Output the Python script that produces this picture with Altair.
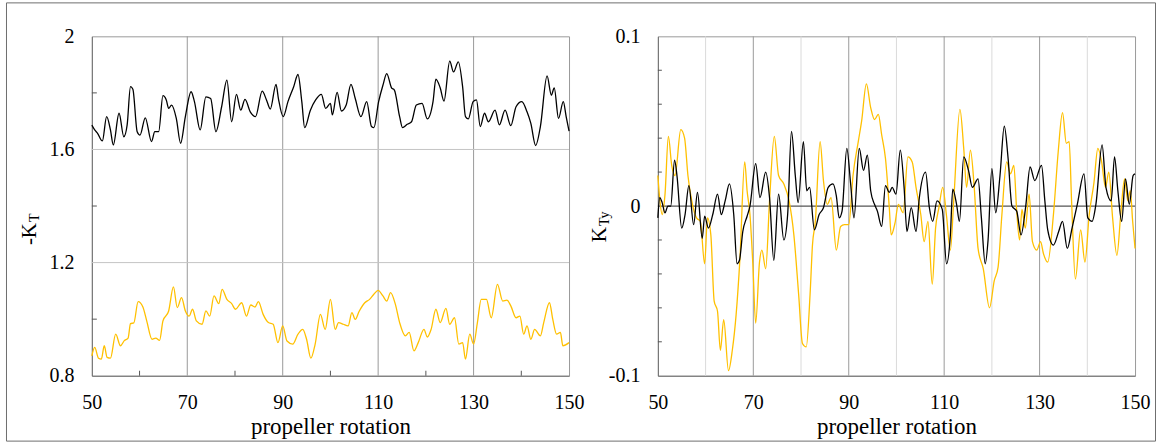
import altair as alt
import pandas as pd

# ---------------- data (rotation, value) ----------------
kt_black = [(50.0,1.686),(50.6,1.669),(51.2,1.657),(52.2,1.630),(53.1,1.716),(53.9,1.669),(54.5,1.616),(55.7,1.728),(56.7,1.645),(57.4,1.687),(58.1,1.822),(58.6,1.813),(59.5,1.663),(60.1,1.651),(61.2,1.712),(62.5,1.628),(63.2,1.663),(64.0,1.663),(64.9,1.790),(65.6,1.775),(66.1,1.745),(66.7,1.757),(67.7,1.710),(68.6,1.622),(69.6,1.716),(70.8,1.804),(71.5,1.769),(72.7,1.669),(73.9,1.786),(74.9,1.780),(76.0,1.663),(77.2,1.751),(78.3,1.845),(79.3,1.698),(80.3,1.795),(81.2,1.739),(82.1,1.777),(83.2,1.733),(84.3,1.716),(85.7,1.806),(86.6,1.775),(87.4,1.743),(88.6,1.830),(89.1,1.780),(90.1,1.716),(91.1,1.769),(92.3,1.822),(93.2,1.865),(94.0,1.769),(94.6,1.677),(95.8,1.739),(96.9,1.775),(98.1,1.795),(99.0,1.745),(100.0,1.763),(100.4,1.722),(101.4,1.802),(102.3,1.736),(103.3,1.757),(104.3,1.830),(105.2,1.780),(106.4,1.716),(107.6,1.769),(108.6,1.681),(109.1,1.677),(110.1,1.769),(111.0,1.827),(111.8,1.868),(112.8,1.818),(113.4,1.810),(114.5,1.716),(115.1,1.677),(116.1,1.689),(117.0,1.698),(118.0,1.757),(119.2,1.763),(120.3,1.708),(121.5,1.769),(122.1,1.849),(123.0,1.818),(123.8,1.771),(125.0,1.912),(125.8,1.874),(126.8,1.910),(127.7,1.822),(128.3,1.716),(128.9,1.708),(129.9,1.769),(130.6,1.775),(131.4,1.681),(132.3,1.728),(133.1,1.698),(134.5,1.739),(135.4,1.687),(136.6,1.739),(137.8,1.684),(138.9,1.751),(140.1,1.769),(141.2,1.733),(142.0,1.692),(143.0,1.614),(144.0,1.681),(145.4,1.860),(146.3,1.792),(146.9,1.818),(147.8,1.710),(148.8,1.769),(149.4,1.716),(150.0,1.665)]

kt_orange = [(50.0,0.870),(50.6,0.900),(51.4,0.862),(52.0,0.859),(52.6,0.906),(53.2,0.865),(53.9,0.862),(55.0,0.947),(56.0,0.906),(56.8,0.924),(57.6,0.933),(58.1,0.984),(58.8,0.987),(59.7,1.062),(60.7,1.043),(61.5,0.994),(62.6,0.929),(63.4,0.933),(64.2,0.925),(64.9,0.994),(66.1,1.029),(67.1,1.114),(67.9,1.041),(68.8,1.076),(69.6,1.029),(70.4,1.011),(71.1,1.035),(71.9,0.994),(73.1,0.982),(73.9,1.029),(74.7,1.011),(75.6,1.082),(76.6,1.055),(77.3,1.105),(78.3,1.070),(79.3,1.055),(80.1,1.035),(81.4,1.058),(82.4,1.011),(83.3,1.050),(84.2,1.043),(84.9,1.062),(85.9,1.017),(87.0,0.988),(88.0,0.982),(89.0,0.917),(90.0,0.976),(90.9,0.923),(92.1,0.912),(93.2,0.947),(94.2,0.964),(95.0,0.929),(95.9,0.862),(96.8,0.912),(97.9,1.017),(98.9,0.964),(100.0,1.070),(101.0,0.964),(101.7,0.988),(102.7,0.982),(103.7,0.976),(104.5,1.023),(105.2,0.999),(106.0,1.027),(107.2,1.058),(108.2,1.070),(109.1,1.088),(110.0,1.102),(111.0,1.082),(111.8,1.064),(112.6,1.094),(113.6,1.053),(114.5,0.988),(115.7,0.941),(116.5,0.953),(117.5,0.888),(118.4,0.917),(119.6,0.964),(120.3,0.937),(121.1,0.964),(122.1,1.035),(123.0,0.988),(124.2,1.038),(125.0,0.982),(126.0,1.005),(126.9,0.912),(127.7,0.917),(128.3,0.859),(129.2,0.947),(130.0,0.912),(130.8,0.988),(131.6,1.070),(132.7,1.070),(133.7,1.005),(135.0,1.123),(136.1,1.064),(137.0,1.067),(137.8,1.047),(138.9,1.005),(139.7,1.011),(140.5,0.947),(141.2,0.976),(142.0,0.929),(142.8,0.964),(144.0,0.941),(144.7,0.988),(145.9,1.058),(146.6,0.999),(147.4,0.947),(148.2,0.953),(148.7,0.906),(150.0,0.917)]

kty_black = [(50.0,-0.007),(50.4,0.005),(50.9,0.002),(51.5,-0.004),(52.1,0.000),(52.7,0.000),(53.5,0.027),(54.0,0.018),(55.0,-0.013),(55.7,-0.005),(56.5,0.012),(57.5,-0.011),(58.3,0.008),(59.3,-0.019),(59.8,-0.006),(60.6,-0.013),(61.5,-0.005),(62.5,0.007),(63.3,-0.005),(64.1,0.003),(65.0,0.013),(65.9,-0.005),(66.6,-0.034),(67.1,-0.032),(67.8,-0.015),(68.7,-0.006),(69.3,0.000),(70.5,0.025),(71.4,0.005),(72.6,0.020),(73.4,0.005),(74.3,-0.032),(75.3,0.007),(76.4,-0.020),(77.2,-0.005),(78.0,0.044),(78.8,0.018),(79.4,0.002),(80.5,0.038),(81.2,0.009),(81.8,0.011),(82.8,-0.014),(83.8,-0.005),(84.7,-0.001),(85.7,0.011),(86.7,0.013),(87.4,0.006),(88.0,-0.007),(88.6,-0.003),(89.6,0.034),(90.4,0.013),(91.1,-0.007),(92.2,0.034),(93.1,0.021),(93.9,0.030),(94.6,0.009),(95.4,0.001),(96.0,-0.003),(96.9,-0.012),(97.7,0.012),(98.5,0.008),(99.1,0.011),(99.9,0.007),(100.8,0.033),(101.6,0.011),(102.2,-0.015),(103.1,-0.001),(104.1,-0.015),(104.8,0.005),(106.1,0.020),(106.9,-0.001),(107.6,-0.009),(108.5,0.003),(109.6,-0.002),(110.5,-0.034),(111.3,-0.017),(111.8,0.010),(112.6,0.001),(113.2,-0.009),(114.1,0.029),(115.1,0.021),(115.9,0.011),(117.1,0.016),(117.8,-0.007),(118.6,-0.034),(119.2,-0.020),(120.0,0.022),(120.8,-0.004),(121.7,0.018),(122.6,0.047),(123.4,0.028),(124.2,0.000),(125.2,-0.003),(126.1,-0.017),(127.1,0.000),(128.0,0.023),(129.0,0.015),(130.4,0.024),(131.1,0.003),(131.7,-0.014),(132.9,-0.023),(134.0,-0.015),(134.8,-0.009),(135.8,-0.025),(136.8,-0.013),(137.9,0.001),(139.3,0.019),(140.1,-0.007),(141.0,-0.009),(141.8,0.001),(143.1,0.036),(143.9,0.011),(145.0,0.003),(145.7,0.029),(146.4,0.009),(147.2,-0.009),(148.0,0.016),(148.8,0.001),(149.6,0.018),(150.0,0.019)]

kty_orange = [(50.0,0.018),(50.4,0.004),(50.9,-0.005),(51.5,0.007),(52.2,0.041),(52.9,0.024),(53.6,0.018),(54.8,0.045),(55.6,0.040),(56.3,0.018),(57.1,0.003),(58.1,-0.007),(58.9,-0.009),(59.8,-0.034),(60.4,-0.007),(61.1,-0.017),(61.8,-0.056),(62.5,-0.062),(63.1,-0.085),(63.8,-0.067),(64.8,-0.097),(65.6,-0.085),(66.4,-0.064),(67.2,-0.031),(68.2,0.026),(68.7,0.009),(69.3,-0.005),(69.9,-0.034),(70.5,-0.069),(71.3,-0.033),(71.8,-0.026),(72.6,-0.037),(73.4,0.003),(74.4,0.041),(75.3,0.018),(76.4,0.013),(77.5,0.003),(78.5,-0.017),(79.5,-0.052),(80.3,-0.081),(81.1,-0.083),(81.9,-0.052),(82.4,-0.023),(83.0,-0.009),(84.0,0.038),(84.7,0.015),(85.5,0.001),(86.3,0.005),(87.4,-0.026),(88.3,-0.012),(89.1,-0.011),(90.0,-0.011),(90.9,0.018),(92.0,0.038),(92.7,0.050),(93.7,0.072),(94.6,0.058),(95.4,0.051),(96.2,0.054),(96.9,0.042),(97.7,0.028),(98.5,-0.001),(98.9,-0.017),(99.7,-0.010),(100.4,0.001),(101.4,-0.004),(102.4,0.029),(103.3,0.026),(104.1,0.011),(105.1,-0.005),(105.8,-0.021),(106.6,-0.009),(107.5,-0.046),(108.2,-0.013),(108.9,-0.001),(109.7,0.011),(110.5,-0.006),(111.3,-0.026),(112.0,0.003),(113.3,0.057),(114.1,0.034),(114.7,0.011),(115.5,0.033),(116.3,0.011),(117.1,-0.025),(118.2,-0.037),(119.5,-0.060),(120.5,-0.044),(121.3,-0.036),(122.1,-0.005),(123.1,0.026),(123.9,0.019),(124.6,0.024),(125.2,-0.003),(125.8,-0.020),(126.3,-0.002),(127.0,-0.013),(127.8,0.007),(128.5,-0.021),(129.4,-0.026),(130.2,-0.021),(130.8,-0.028),(131.7,-0.033),(132.9,-0.005),(133.9,0.032),(134.8,0.055),(135.6,0.037),(136.2,0.038),(136.7,0.003),(137.5,-0.043),(138.6,-0.014),(139.5,-0.033),(140.4,-0.005),(141.4,0.014),(142.2,0.034),(143.0,0.026),(143.8,0.011),(144.5,0.020),(145.3,-0.007),(146.2,-0.029),(147.0,-0.005),(147.8,0.016),(148.5,0.003),(149.0,0.009),(149.5,-0.009),(150.0,-0.025)]

x_ticks = [50, 70, 90, 110, 130, 150]
left_y_ticks = [0.8, 1.2, 1.6, 2.0]
right_y_ticks = [-0.1, 0.0, 0.1]
left_vgrid = [70, 90, 110, 130]
left_hgrid = [1.2, 1.6]
left_x_minor = [60, 80, 100, 120, 140]
left_y_minor = [1.0, 1.4, 1.8]
right_vgrid_major = [70, 90, 110, 130]
right_vgrid_minor = [60, 80, 100, 120, 140]
right_zero = [0.0]
right_y_minor = [-0.08, -0.06, -0.04, -0.02, 0.02, 0.04, 0.06, 0.08]

W, H = 478, 340
FONT = "Liberation Serif"
BLACK = "#000000"
GOLD = "#FFC000"


def df(pairs):
    return pd.DataFrame(pairs, columns=["rot", "val"])


xs = alt.Scale(domain=[50, 150], nice=False, zero=False)
label_expr = "replace(format(datum.value, '.1~f'), '\u2212', '-')"


def make_panel(ydom, yticks, series, vmajor, vminor, hlines, hline_color, hline_width,
               xminor, yminor, ytick_len, title_main, title_sub, tpos, frame=False):
    ys = alt.Scale(domain=ydom, nice=False, zero=False)
    X = alt.X("rot:Q", scale=xs,
              axis=alt.Axis(values=x_ticks, format="d", title="propeller rotation",
                            grid=False, labelFlush=False))
    Y = alt.Y("val:Q", scale=ys,
              axis=alt.Axis(values=yticks, labelExpr=label_expr, title=None, grid=False))
    layers = []
    if vminor:
        layers.append(alt.Chart(pd.DataFrame({"g": vminor})).mark_rule(color="#dadada", strokeWidth=1)
                      .encode(x=alt.X("g:Q", scale=xs), y=alt.value(0), y2=alt.value(H)))
    layers.append(alt.Chart(pd.DataFrame({"g": vmajor})).mark_rule(color="#9a9a9a", strokeWidth=1)
                  .encode(x=alt.X("g:Q", scale=xs), y=alt.value(0), y2=alt.value(H)))
    layers.append(alt.Chart(pd.DataFrame({"h": hlines})).mark_rule(color=hline_color, strokeWidth=hline_width)
                  .encode(y=alt.Y("h:Q", scale=ys), x=alt.value(0), x2=alt.value(W)))
    if xminor:
        layers.append(alt.Chart(pd.DataFrame({"g": xminor})).mark_rule(color="#555555", strokeWidth=1)
                      .encode(x=alt.X("g:Q", scale=xs), y=alt.value(H - 5), y2=alt.value(H)))
    layers.append(alt.Chart(pd.DataFrame({"h": yminor})).mark_rule(color="#555555", strokeWidth=1)
                  .encode(y=alt.Y("h:Q", scale=ys), x=alt.value(0), x2=alt.value(ytick_len)))
    for pairs, col in series:
        layers.append(alt.Chart(df(pairs)).mark_line(color=col, strokeWidth=1.3, interpolate="monotone")
                      .encode(x=X, y=Y))
    (mx, my), (sx, sy) = tpos
    layers.append(alt.Chart(pd.DataFrame({"t": [title_main]})).mark_text(
        font=FONT, fontSize=21, angle=270, align="right", baseline="middle", color="#000")
        .encode(text="t:N", x=alt.value(mx), y=alt.value(my)))
    layers.append(alt.Chart(pd.DataFrame({"t": [title_sub]})).mark_text(
        font=FONT, fontSize=14, angle=270, align="left", baseline="middle", color="#000")
        .encode(text="t:N", x=alt.value(sx), y=alt.value(sy)))
    if frame:
        layers.append(alt.Chart(pd.DataFrame({"f": [1]})).mark_rect(
            filled=False, stroke="#6e6e6e", strokeWidth=1)
            .encode(x=alt.value(-85.5), x2=alt.value(1065.5), y=alt.value(-33.5), y2=alt.value(405.5)))
    return alt.layer(*layers).properties(width=W, height=H)


left = make_panel([0.8, 2.0], left_y_ticks,
                  [(kt_orange, GOLD), (kt_black, BLACK)],
                  left_vgrid, None, left_hgrid, "#c4c4c4", 1,
                  left_x_minor, left_y_minor, 5,
                  "-K", "T", ((-62, 187), (-57, 186)), frame=True)

right = make_panel([-0.1, 0.1], right_y_ticks,
                   [(kty_orange, GOLD), (kty_black, BLACK)],
                   right_vgrid_major, right_vgrid_minor, right_zero, "#555555", 1.3,
                   None, right_y_minor, 4,
                   "K", "Ty", ((-58, 191), (-53, 190)))

chart = alt.hconcat(left, right, spacing=89, bounds="flush").properties(
    padding={"left": 5, "top": 1, "right": 2, "bottom": 1}
).configure_view(
    stroke="#9a9a9a", strokeWidth=1
).configure_axis(
    domainColor="#707070", domainWidth=1, tickSize=0,
    labelFont=FONT, labelFontSize=20, labelColor="#000",
    titleFont=FONT, titleFontSize=23, titleFontWeight="normal", titleColor="#000",
    labelPadding=17, titlePadding=3
).configure_axisY(labelPadding=18)

chart.save("out.html", embed_options={"renderer": "svg", "actions": False})
